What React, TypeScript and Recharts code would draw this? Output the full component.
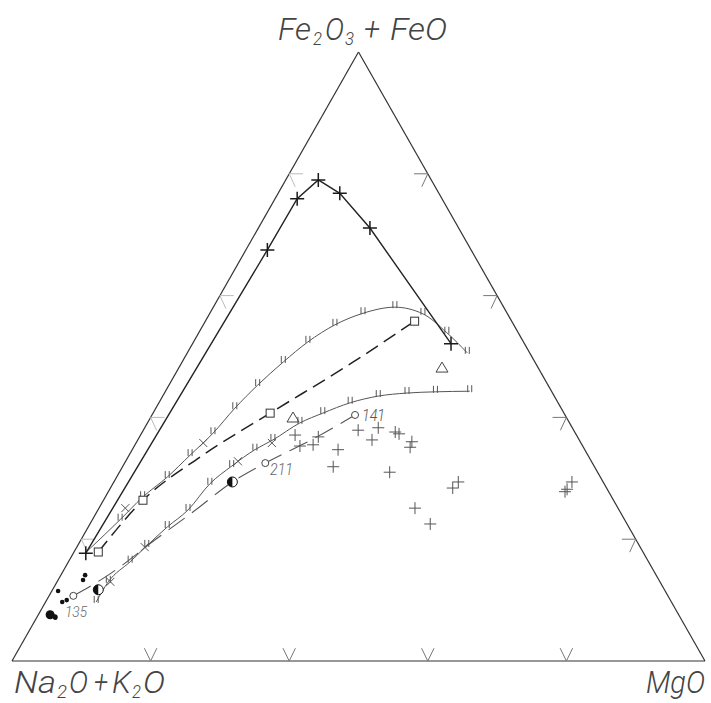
import { Customized, ReferenceLine, Scatter, ScatterChart, XAxis, YAxis } from "recharts";

// ternary values as [Fe2O3+FeO %, MgO %]; Na2O+K2O is the rest
const feTrend: [number, number][] = [
  [17.7, 1.8], [67.5, 3.1], [75.9, 3.2], [79.0, 4.7], [76.8, 8.9], [71.1, 16.1], [52.1, 37.3],
];
const upperCurve: [number, number][] = [
  [18.2, 1.9], [23.2, 4.0], [26.9, 5.4], [30.2, 7.3], [33.8, 8.8], [37.4, 10.3], [41.5, 11.4],
  [45.3, 12.8], [49.1, 14.6], [52.4, 16.5], [55.2, 19.0], [57.1, 22.1], [58.1, 26.2],
  [57.0, 30.8], [53.9, 35.8], [50.6, 40.4],
];
const dashedCurve: [number, number][] = [
  [17.9, 3.5], [26.4, 5.7], [33.5, 10.4], [40.7, 16.9], [49.1, 24.7], [55.8, 30.2],
];
const squares: [number, number][] = [[17.9, 3.5], [26.4, 5.7], [40.7, 16.9], [55.8, 30.2]];
const lowerCurve: [number, number][] = [
  [9.7, 7.3], [13.0, 7.4], [16.3, 8.9], [18.9, 10.0], [22.0, 11.4], [24.8, 13.0], [29.1, 14.0],
  [32.0, 15.7], [34.7, 17.7], [36.3, 19.5], [39.1, 22.0], [40.7, 24.5], [42.4, 27.6],
  [43.5, 31.1], [44.0, 35.0], [44.2, 39.0], [44.3, 43.9],
];
const lowerDashed: [number, number][] = [
  [10.7, 3.5], [14.3, 7.0], [19.9, 10.7], [24.5, 13.9], [29.4, 17.1], [32.5, 20.3], [36.8, 25.6], [40.4, 29.3],
];
const crosses: [number, number][] = [
  [37.1, 22.3], [35.3, 23.9], [35.5, 25.7], [36.8, 25.8], [34.7, 29.7], [31.9, 30.4], [37.9, 31.0],
  [36.3, 33.8], [38.3, 33.7], [37.6, 36.5], [37.3, 37.2], [36.0, 39.7], [35.1, 39.9], [31.0, 39.0],
  [29.4, 49.7], [28.4, 49.4], [25.1, 45.6], [22.5, 49.1], [29.4, 66.1], [28.2, 66.0], [27.8, 65.9],
];
const xMarks: [number, number][] = [[35.8, 9.7], [18.7, 9.8], [13.0, 7.7], [32.8, 16.2], [35.8, 19.6], [25.1, 3.8]];
const triangles: [number, number][] = [[39.9, 20.6], [48.1, 38.0]];
const halfCircles: [number, number][] = [[11.7, 6.6], [29.4, 17.1]];
const blackDots: [number, number][] = [[13.3, 3.6], [14.1, 3.5], [11.5, 0.9], [9.7, 2.4], [10.0, 2.9], [7.1, 2.7]];
const blackBlobs: [number, number][] = [[7.6, 1.7]];
const samples = [
  { id: "135", v: [10.7, 3.5] as [number, number] },
  { id: "211", v: [32.5, 20.3] as [number, number] },
  { id: "141", v: [40.4, 29.3] as [number, number] },
];
const edgeTicks = [20, 40, 60, 80];

const toXY = ([f, m]: [number, number]) => ({ x: m + f / 2, y: f });
const pts = (a: [number, number][]) => a.map(toXY);

const FONT = "Roboto, 'Liberation Sans Narrow', 'Liberation Sans', sans-serif";

const Plus = (p: any) => {
  const r = p.r ?? 6;
  return (
    <path d={`M${p.cx - r},${p.cy}H${p.cx + r}M${p.cx},${p.cy - r}V${p.cy + r}`}
      stroke={p.c ?? "#222"} strokeWidth={p.w ?? 1.3} fill="none" />
  );
};
const Cross = (p: any) => (
  <path d={`M${p.cx - 4},${p.cy - 4}L${p.cx + 4},${p.cy + 4}M${p.cx + 4},${p.cy - 4}L${p.cx - 4},${p.cy + 4}`}
    stroke="#555" strokeWidth={1} />
);
const DoubleTick = (p: any) => (
  <path d={`M${p.cx - 2},${p.cy + 1}V${p.cy - 6}M${p.cx + 2},${p.cy + 1}V${p.cy - 6}`}
    stroke="#555" strokeWidth={1} />
);
const Square = (p: any) => (
  <rect x={p.cx - 4} y={p.cy - 4} width={8} height={8} fill="#fff" stroke="#333" strokeWidth={1} />
);
const Tri = (p: any) => (
  <path d={`M${p.cx},${p.cy - 6}L${p.cx + 6},${p.cy + 4}L${p.cx - 6},${p.cy + 4}Z`} fill="none" stroke="#444" strokeWidth={1} />
);
const Half = (p: any) => (
  <g>
    <circle cx={p.cx} cy={p.cy} r={5} fill="#fff" stroke="#111" strokeWidth={1} />
    <path d={`M${p.cx},${p.cy - 5}A5,5 0 0 0 ${p.cx},${p.cy + 5}Z`} fill="#111" />
  </g>
);
const Open = (p: any) => <circle cx={p.cx} cy={p.cy} r={3.5} fill="#fff" stroke="#444" strokeWidth={1} />;
const Dot = (p: any) => <circle cx={p.cx} cy={p.cy} r={2.3} fill="#111" />;
const Blob = (p: any) => (
  <g fill="#111">
    <circle cx={p.cx} cy={p.cy} r={4.5} />
    <circle cx={p.cx + 5} cy={p.cy + 2} r={2.5} />
  </g>
);
const None = () => <g />;

const seg = (a: [number, number], b: [number, number]) => [{ x: a[0], y: a[1] }, { x: b[0], y: b[1] }];

// each piece placed on its own so the subscripts sit where the drawing has them
const Formula = ({ y, parts }: { y: number; parts: [string, number, number][] }) => (
  <g>
    {parts.map(([s, x, w], i) => {
      const sub = /^\d$/.test(s);
      return (
        <text key={i} x={x} y={sub ? y + 5 : y} fontSize={sub ? 19 : 31}
          textLength={w} lengthAdjust="spacingAndGlyphs">{s}</text>
      );
    })}
  </g>
);

const Labels = () => (
  <g fontFamily={FONT} fontStyle="italic" fontWeight={300} fill="#444">
    <Formula y={40} parts={[["Fe", 278, 33], ["2", 313, 9], ["O", 325, 19], ["3", 345, 9], ["+", 364, 16], ["FeO", 390, 57]]} />
    <Formula y={693} parts={[["Na", 14, 42], ["2", 57, 10], ["O", 69, 19], ["+", 94, 14], ["K", 112, 19], ["2", 132, 9], ["O", 143, 22]]} />
    <text x={646} y={693} fontSize={31} textLength={59} lengthAdjust="spacingAndGlyphs">MgO</text>
    <text x={65} y={617} fontSize={15} fill="#666" textLength={22} lengthAdjust="spacingAndGlyphs">{samples[0].id}</text>
    <text x={270} y={475} fontSize={17} fill="#666" textLength={23} lengthAdjust="spacingAndGlyphs">{samples[1].id}</text>
    <text x={362} y={421} fontSize={17} fill="#555" textLength={23} lengthAdjust="spacingAndGlyphs">{samples[2].id}</text>
  </g>
);

export default function App() {
  return (
    <div style={{ position: "absolute", left: 0, top: 0, background: "#fff" }}>
      <ScatterChart width={711} height={703} margin={{ top: 52, right: 6, bottom: 42, left: 12 }}>
        <XAxis type="number" dataKey="x" domain={[0, 100]} hide />
        <YAxis type="number" dataKey="y" domain={[0, 100]} hide />
        <ReferenceLine segment={seg([0, 0], [100, 0])} stroke="#333" strokeWidth={1.2} />
        <ReferenceLine segment={seg([0, 0], [50, 100])} stroke="#333" strokeWidth={1.2} />
        <ReferenceLine segment={seg([100, 0], [50, 100])} stroke="#333" strokeWidth={1.2} />
        {edgeTicks.map((t) => [
          <ReferenceLine key={`b1${t}`} segment={seg([t, 0], [t - 0.9, 2.1])} stroke="#777" />,
          <ReferenceLine key={`b2${t}`} segment={seg([t, 0], [t + 0.9, 2.1])} stroke="#777" />,
          <ReferenceLine key={`r1${t}`} segment={seg([100 - t / 2, t], [98 - t / 2, t])} stroke="#777" />,
          <ReferenceLine key={`r2${t}`} segment={seg([100 - t / 2, t], [99.13 - t / 2, t - 2.13])} stroke="#777" />,
          <ReferenceLine key={`l1${t}`} segment={seg([t / 2, t], [t / 2 + 2, t])} stroke="#bbb" />,
          <ReferenceLine key={`l2${t}`} segment={seg([t / 2, t], [t / 2 + 0.87, t - 2.13])} stroke="#bbb" />,
        ])}
        <Scatter data={pts(upperCurve)} line={{ stroke: "#555", strokeWidth: 1 }} lineJointType="monotoneX"
          shape={(p: any) => (p.index === 0 ? <g /> : <DoubleTick {...p} />)} isAnimationActive={false} />
        <Scatter data={pts(lowerCurve)} line={{ stroke: "#555", strokeWidth: 1 }} lineJointType="monotoneX"
          shape={(p: any) => <DoubleTick {...p} />} isAnimationActive={false} />
        <Scatter data={pts(dashedCurve)} line={{ stroke: "#222", strokeWidth: 1.5, strokeDasharray: "14 7" }}
          lineJointType="monotoneX" shape={None} isAnimationActive={false} />
        <Scatter data={pts(lowerDashed)} line={{ stroke: "#555", strokeWidth: 1.1, strokeDasharray: "20 9" }}
          lineJointType="monotoneX" shape={None} isAnimationActive={false} />
        <Scatter data={pts(feTrend)} line={{ stroke: "#222", strokeWidth: 1.4 }}
          shape={(p: any) => <Plus {...p} r={7} c="#1a1a1a" w={1.5} />} isAnimationActive={false} />
        <Scatter data={pts(squares)} shape={Square} isAnimationActive={false} />
        <Scatter data={pts(crosses)} shape={(p: any) => <Plus {...p} r={6} c="#555" w={1} />} isAnimationActive={false} />
        <Scatter data={pts(xMarks)} shape={Cross} isAnimationActive={false} />
        <Scatter data={pts(triangles)} shape={Tri} isAnimationActive={false} />
        <Scatter data={pts(halfCircles)} shape={Half} isAnimationActive={false} />
        <Scatter data={samples.map((s) => toXY(s.v))} shape={Open} isAnimationActive={false} />
        <Scatter data={pts(blackDots)} shape={Dot} isAnimationActive={false} />
        <Scatter data={pts(blackBlobs)} shape={Blob} isAnimationActive={false} />
        <Customized component={Labels} />
      </ScatterChart>
    </div>
  );
}
